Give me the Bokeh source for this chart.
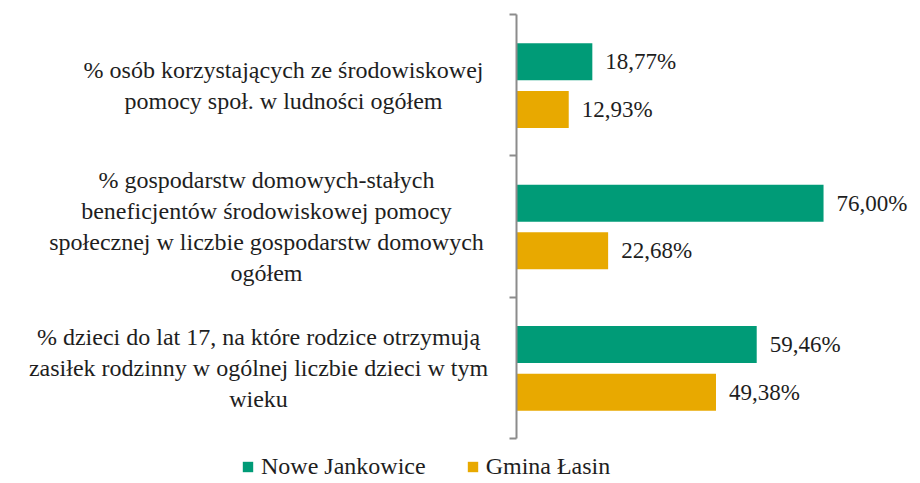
from bokeh.plotting import figure
from bokeh.models import ColumnDataSource, Legend, LegendItem, FixedTicker, Range1d
from bokeh.core.properties import value
from bokeh.embed import file_html
from bokeh.resources import INLINE

categories = [
    "% osób korzystających ze środowiskowej\npomocy społ. w ludności ogółem",
    "% gospodarstw domowych-stałych\nbeneficjentów środowiskowej pomocy\nspołecznej w liczbie gospodarstw domowych\nogółem",
    "% dzieci do lat 17, na które rodzice otrzymują\nzasiłek rodzinny w ogólnej liczbie dzieci w tym\nwieku",
]
series_names = ["Nowe Jankowice", "Gmina Łasin"]
nowe_jankowice = [18.77, 76.00, 59.46]
gmina_lasin = [12.93, 22.68, 49.38]

colors = ["#009B77", "#E8A900"]
FONT = "Liberation Serif"
FS = "24px"
TXT = "#1E1E1E"

n = len(categories)
centers = [n - i - 0.5 for i in range(n)]
label_offsets = [-233, -250, -258]

W, H = 912, 480
AX_X, TOP, BOT = 516, 14, 438          # pixel layout of the axis and band area
PX_PER_PCT = 4.04
PX_PER_CAT = (BOT - TOP) / n

p = figure(width=W, height=H, output_backend="svg", toolbar_location=None,
           x_range=Range1d(-AX_X / PX_PER_PCT, (W - AX_X) / PX_PER_PCT),
           y_range=Range1d(-(H - BOT) / PX_PER_CAT, n + TOP / PX_PER_CAT),
           min_border_left=0, min_border_right=0, min_border_top=0,
           min_border_bottom=0)
p.outline_line_color = None
p.grid.visible = False
p.xaxis.visible = False

fmt = lambda v: f"{v:.2f}".replace(".", ",") + "%"
renderers = []
for vals, col, off in [(nowe_jankowice, colors[0], 0.165), (gmina_lasin, colors[1], -0.172)]:
    src = ColumnDataSource(dict(y=[c + off for c in centers], v=vals,
                                lab=[fmt(v) for v in vals]))
    r = p.hbar(y="y", right="v", left=0, height=0.262, source=src,
               fill_color=col, line_color=None)
    renderers.append(r)
    p.text(x="v", y="y", text="lab", source=src, x_offset=13,
           text_align="left", text_baseline="middle",
           text_font=value(FONT), text_font_size="23px", text_color=TXT)

lsrc = ColumnDataSource(dict(x=[0] * n, y=centers, t=categories, xo=label_offsets))
p.text(x="x", y="y", text="t", source=lsrc, x_offset="xo",
       text_align="center", text_baseline="middle", text_line_height=1.2,
       text_font=value(FONT), text_font_size=FS, text_color=TXT)

yax = p.yaxis[0]
yax.fixed_location = 0
yax.bounds = (0, n)
yax.ticker = FixedTicker(ticks=list(range(n + 1)))
yax.major_label_text_font_size = "0px"
yax.major_label_text_color = None
yax.major_label_standoff = 0
yax.axis_line_color = "#8C8C8C"
yax.axis_line_width = 2
yax.major_tick_line_color = "#8C8C8C"
yax.major_tick_line_width = 2
yax.major_tick_out = 7
yax.major_tick_in = 0
yax.minor_tick_line_color = None

legend = Legend(items=[LegendItem(label=s, renderers=[r]) for s, r in zip(series_names, renderers)],
                orientation="horizontal", location=(241, 0),
                label_text_font=FONT, label_text_font_size=FS, label_text_color=TXT,
                glyph_width=13, glyph_height=13, spacing=40, label_standoff=7,
                border_line_color=None, background_fill_alpha=0, padding=0, margin=0)
p.add_layout(legend, "center")

open("out.html", "w").write(file_html(p, INLINE))
